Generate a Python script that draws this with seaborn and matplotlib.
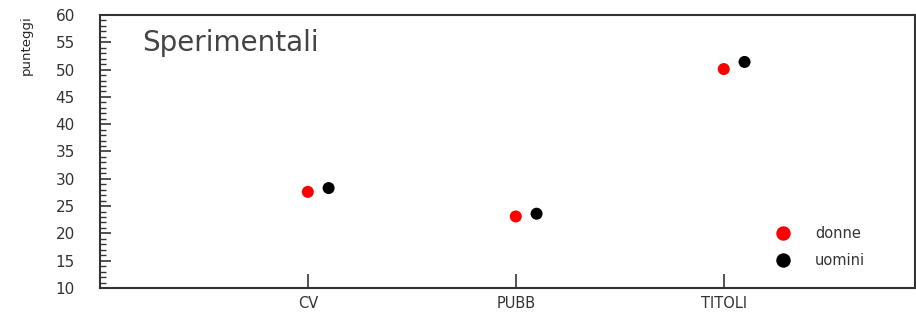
import pandas as pd
import seaborn as sns
import matplotlib.pyplot as plt
from matplotlib.ticker import MultipleLocator

categorie = ['CV', 'PUBB', 'TITOLI']
donne = [27.6, 23.1, 50.1]
uomini = [28.3, 23.6, 51.4]
yticks = [10, 15, 20, 25, 30, 35, 40, 45, 50, 55, 60]

rows = []
for i, c in enumerate(categorie):
    rows.append({'pos': i + 1, 'cat': c, 'gruppo': 'donne', 'punteggi': donne[i]})
    rows.append({'pos': i + 1.1, 'cat': c, 'gruppo': 'uomini', 'punteggi': uomini[i]})
df = pd.DataFrame(rows)

sns.set_style('white')
plt.rcParams['font.family'] = ['DejaVu Sans']

fig = plt.figure(figsize=(9.16, 3.13), dpi=100)
ax = fig.add_axes([0.109, 0.080, 0.890, 0.872])

sns.scatterplot(data=df, x='pos', y='punteggi', hue='gruppo',
                palette={'donne': '#ff0000', 'uomini': '#000000'},
                s=75, edgecolor='none', ax=ax)

ax.set_xlim(0, 3.92)
ax.set_ylim(10, 60)
ax.set_xticks([1, 2, 3])
ax.set_xticklabels(categorie)
ax.set_yticks(yticks)
ax.yaxis.set_minor_locator(MultipleLocator(1))
ax.tick_params(axis='y', which='major', direction='in', length=8, width=1.2,
               labelsize=11, labelcolor='#333333', color='#333333', left=True, pad=18)
ax.tick_params(axis='y', which='minor', direction='in', length=4, width=1,
               color='#333333', left=True)
ax.tick_params(axis='x', direction='in', length=10, width=1.2, bottom=True,
               labelsize=10.5, labelcolor='#333333', color='#333333', pad=6)

for sp in ax.spines.values():
    sp.set_color('#333333')
    sp.set_linewidth(1.5)

ax.set_xlabel('')
ax.set_ylabel('punteggi', loc='top', fontsize=9.5, labelpad=16)
ax.text(0.052, 0.95, 'Sperimentali', transform=ax.transAxes, fontsize=20,
        color='#444444', va='top', ha='left')

leg = ax.legend(loc='lower right', bbox_to_anchor=(0.955, 0.025), frameon=False,
                fontsize=10.5, markerscale=1.2, handletextpad=1.2, labelspacing=0.8)
for t in leg.get_texts():
    t.set_color('#333333')

fig.savefig('out.png', dpi=100)
